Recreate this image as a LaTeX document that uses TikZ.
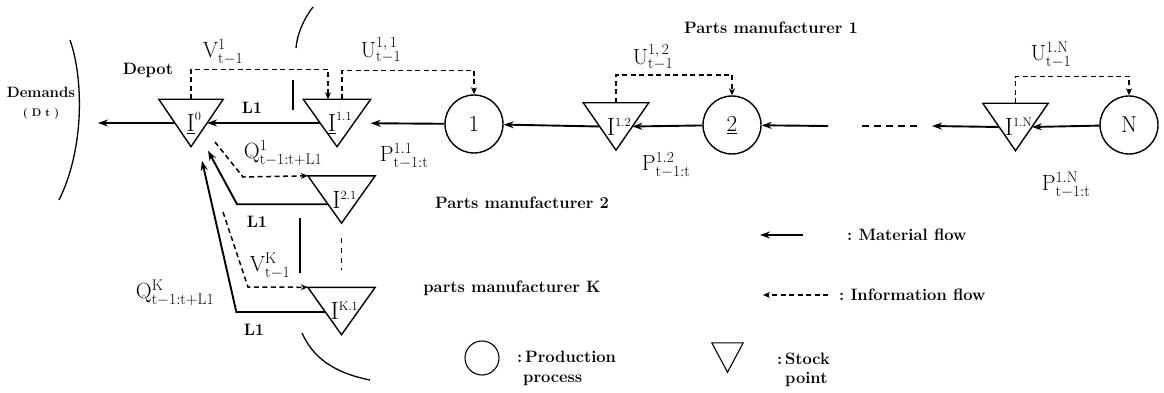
\RequirePackage{fix-cm}
\documentclass[tikz,border=0pt]{standalone}
\usepackage{fontspec}
\usetikzlibrary{arrows.meta,calc}
\newcommand\mlab[3]{$\mathrm{#1}^{\mathrm{#2}}_{\mathrm{#3}}$}
\newcommand\ilab[2]{$#1^{\scriptscriptstyle\mathrm{#2}}$}
\newcommand\stockpt[4]{%
  \node[stockbox,minimum width=#3] (#1) at (#2) {};
  \draw[tri] (#1.north west) -- (#1.north east) -- (#1.south) -- cycle;
  \coordinate (#1-l) at ($(#1.north west)!0.5!(#1.south)$);
  \coordinate (#1-r) at ($(#1.north east)!0.5!(#1.south)$);
  \node[ilbl] (#1-t) at ($(#1.center)+(3,0)$) {#4};
}
\tikzset{
 mat/.style={line width=1.9pt,-{Stealth[length=10pt,width=7pt]}},
 info/.style={line width=1.5pt,dash pattern=on 5pt off 3.5pt,-{Stealth[length=7pt,width=6pt]}},
 gapline/.style={line width=1.9pt,dash pattern=on 7pt off 5pt},
 stockbox/.style={inner sep=0pt,minimum height=47pt},
 proc/.style={circle,draw,line width=1.4pt,minimum size=58pt,inner sep=0pt,font=\fontsize{23}{25}\selectfont},
 tri/.style={line width=1.4pt,line join=miter},
 wlbl/.style={font=\fontsize{16.5}{19}\selectfont\bfseries,inner sep=1pt},
 mlbl/.style={font=\fontsize{22}{26}\selectfont,inner sep=1pt},
 ilbl/.style={font=\fontsize{25}{28}\selectfont,inner sep=0pt},
 bnd/.style={line width=1.3pt},
 tickline/.style={line width=1.3pt},
}
\begin{document}
\begin{tikzpicture}[x=1pt,y=-1pt]
\useasboundingbox (0,0) rectangle (1164,393);

% stock points
\stockpt{i0}{191,123}{64pt}{\ilab{\underline{\mathrm{I}}}{0}}
\stockpt{i11}{337,123}{67pt}{\ilab{\underline{\mathrm{I}}}{1.1}}
\stockpt{i12}{616,126.5}{65pt}{\ilab{\mathrm{I}}{1.2}}
\stockpt{i1N}{1015.5,127}{65pt}{\ilab{\mathrm{I}}{1.N}}
\stockpt{i21}{341.5,199.5}{67pt}{\ilab{\mathrm{I}}{2.1}}
\stockpt{ik1}{341.5,311}{67pt}{\ilab{\mathrm{I}}{K.1}}

% production processes
\node[proc] (c1) at (474,124) {1};
\node[proc] (c2) at (732,125) {\underline{2}};
\node[proc] (cN) at (1129,125) {N};

% material flows, upper chain
\coordinate (dem) at (98,123);
\draw[mat] (i0-l) -- (dem);
\draw[mat] (i11-l) -- (i0-r);
\draw[mat] (c1) -- (i11);
\draw[mat] (i12-l) -- (c1);
\draw[mat] (c2) -- (i12-r);
\coordinate (g1) at (828,126);
\coordinate (g2) at (857,126);
\coordinate (g3) at (917,126);
\coordinate (g4) at (932,126);
\draw[mat] (g1) -- (c2);
\draw[gapline] (g3) -- (g2);
\draw[mat] (i1N-l) -- (g4);
\draw[mat] (cN) -- (i1N-r);

% information flows, upper
\draw[info] (i0.north) -- ++(0,-30) -| ([xshift=-9pt]i11.north);
\draw[info] ([xshift=5pt]i11.north) -- ++(0,-29) -| (c1.north);
\draw[info] (i12.north) -- ++(0,-28) -| (c2.north);
\draw[info] (i1N.north) -- ++(0,-27) -| (cN.north);

% lower part
\coordinate (d21) at (215,142);
\draw[info] (d21) -- ++(28,35) -- (i21.north west);
\coordinate (q1) at ($(i0.south)+(17,4)$);
\draw[mat] ($(i21.north west)!0.6!(i21.south)$) -- ++(-91,0) -- (q1);
\coordinate (dK) at (223,212);
\draw[info] (dK) -- ++(25,75) -- (ik1.north west);
\coordinate (qK) at ($(i0.south)+(11,14)$);
\draw[mat] ($(ik1.north west)!0.52!(ik1.south)$) -- ++(-89,0) -- (qK);

\draw[tickline] (293,80) -- (293,110);
\draw[tickline] (300,218) -- (300,273);
\draw[line width=1.7pt,dash pattern=on 5pt off 5pt] ($(i21.south)+(0,15)$) -- ($(ik1.north)+(0,-17)$);

% boundaries
\draw[bnd] (70,40) .. controls (84,80) and (84,150) .. (59,200);
\draw[bnd] (313,7) .. controls (303,20) and (297,35) .. (296,48);
\draw[bnd] (302,333) .. controls (312,355) and (330,372) .. (370,380);

% labels
\node[wlbl,font=\fontsize{15}{18}\selectfont\bfseries] (tdem) at (41,92) {Demands};
\node[font=\fontsize{11}{12}\selectfont\bfseries] (tdt) at (41,114) {( D t )};
\node[wlbl] (tdepot) at (148,70) {Depot};
\node[mlbl] (lv1) at (223,52) {\mlab{V}{1}{t-1}};
\node[mlbl] (lu11) at (381,50) {\mlab{U}{1,\,1}{t-1}};
\node[wlbl] (ll1a) at (252,108) {L1};
\node[mlbl] (lq1) at (283,153) {\mlab{Q}{1}{t-1:t+L1}};
\node[mlbl] (lp11) at (404,156) {\mlab{P}{1.1}{t-1:t}};
\node[mlbl] (lu12) at (653,57) {\mlab{U}{1,\,2}{t-1}};
\node[mlbl] (lp12) at (666,165) {\mlab{P}{1.2}{t-1:t}};
\node[mlbl] (lu1N) at (1051,55) {\mlab{U}{1.N}{t-1}};
\node[mlbl] (lp1N) at (1066,185) {\mlab{P}{1.N}{t-1:t}};
\node[wlbl] (tpm1) at (771,28) {Parts manufacturer 1};
\node[wlbl] (tpm2) at (522,203) {Parts manufacturer 2};
\node[wlbl] (tpmk) at (512,288) {parts manufacturer K};
\node[wlbl] (ll1b) at (257,222) {L1};
\node[wlbl] (ll1c) at (254,330) {L1};
\node[mlbl] (lvk) at (270,266) {\mlab{V}{K}{t-1}};
\node[mlbl] (lqk) at (175,293) {\mlab{Q}{K}{t-1:t+L1}};

% legend
\coordinate (lm1) at (760,235);
\coordinate (lm2) at (803,235);
\draw[mat] (lm2) -- (lm1);
\node[wlbl,anchor=west] (tmat) at (846,235) {:\ Material flow};
\coordinate (li1) at (763,295);
\coordinate (li2) at (828,295);
\draw[info] (li2) -- (li1);
\node[wlbl,anchor=west] (tinf) at (838,295) {:\ Information flow};
\node[circle,draw,line width=1.1pt,minimum size=34pt,inner sep=0pt] (lgc) at (482,358) {};
\node[wlbl,anchor=west] (tpp1) at (516,357) {:\,Production};
\node[wlbl,anchor=west] (tpp2) at (522,380) {process};
\node[inner sep=0pt,minimum width=31pt,minimum height=29pt] (lgt) at (727.5,357.5) {};
\draw[line width=1.1pt,line join=miter] (lgt.north west) -- (lgt.north east) -- (lgt.south) -- cycle;
\node[wlbl,anchor=west] (tsp1) at (776,359) {:\,Stock};
\node[wlbl,anchor=west] (tsp2) at (784,379) {point};
\end{tikzpicture}
\end{document}
